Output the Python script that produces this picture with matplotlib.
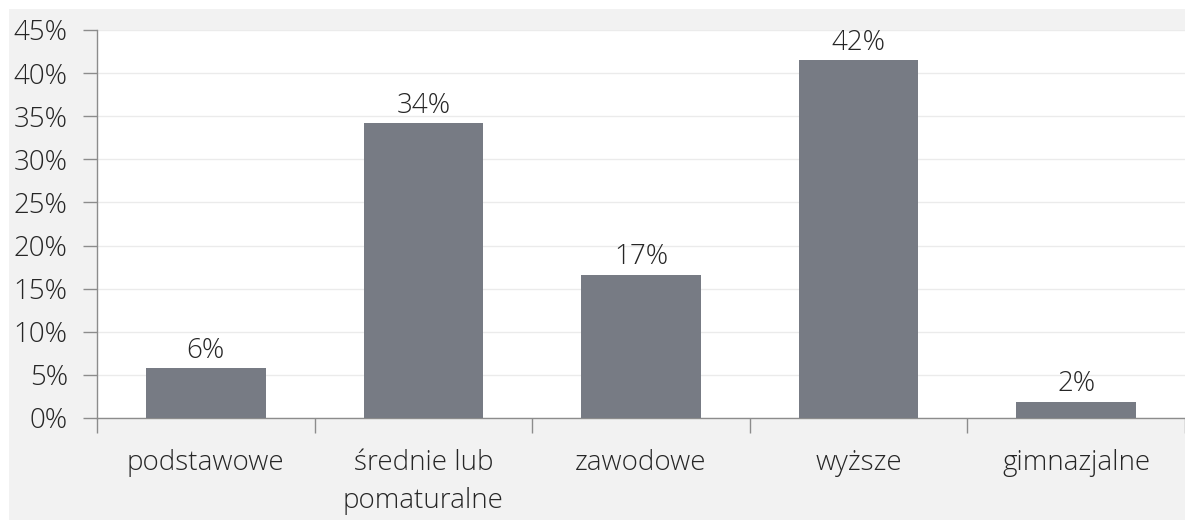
import matplotlib

matplotlib.use("Agg")

import matplotlib.pyplot as plt
from matplotlib.patches import Rectangle
from matplotlib.ticker import FixedLocator, FuncFormatter

# 数据：百分比
categories = ["podstawowe", "średnie lub\npomaturalne", "zawodowe", "wyższe", "gimnazjalne"]
values = [5.8, 34.2, 16.6, 41.5, 1.9]
value_labels = ["6%", "34%", "17%", "42%", "2%"]
y_ticks = [0, 5, 10, 15, 20, 25, 30, 35, 40, 45]

BAR_COLOR = "#777b84"
BG_COLOR = "#f2f2f2"
TEXT_COLOR = "#262626"
AXIS_COLOR = "#8c8c8c"
FONT_SIZE = 20

plt.rcParams["font.family"] = ["Open Sans", "DejaVu Sans"]
plt.rcParams["font.weight"] = "light"

W, H = 1185, 520
fig = plt.figure(figsize=(W / 100, H / 100), dpi=100)
fig.patch.set_facecolor("white")
bg = Rectangle((9 / W, 0), 1 - 9 / W, 1 - 9 / H, transform=fig.transFigure,
               facecolor=BG_COLOR, edgecolor="none", zorder=-10)
fig.add_artist(bg)

ax = fig.add_axes([97 / W, (H - 418) / H, (W - 97) / W, 388 / H])
ax.set_zorder(1)
ax.set_facecolor("white")

x = list(range(len(categories)))
ax.bar(x, values, width=0.55, color=BAR_COLOR, zorder=3)
for xi, v, lab in zip(x, values, value_labels):
    ax.text(xi, v + 0.4, lab, ha="center", va="bottom", fontsize=FONT_SIZE,
            color=TEXT_COLOR, fontweight="light")

ax.set_xlim(-0.5, len(categories) - 0.5)
ax.set_ylim(0, 45)
ax.set_yticks(y_ticks)
ax.yaxis.set_major_formatter(FuncFormatter(lambda v, p: f"{v:.0f}%"))
ax.tick_params(axis="y", length=10, width=1, color=AXIS_COLOR, labelsize=FONT_SIZE,
               labelcolor=TEXT_COLOR, pad=11)
ax.grid(axis="y", color="#ebebeb", linewidth=1, zorder=0)

ax.set_xticks(x)
ax.set_xticklabels(categories, fontsize=FONT_SIZE, color=TEXT_COLOR, linespacing=1.5)
ax.tick_params(axis="x", which="major", length=0, pad=22)
ax.xaxis.set_minor_locator(FixedLocator([i - 0.5 for i in range(len(categories) + 1)]))
ax.tick_params(axis="x", which="minor", length=11, width=1, color=AXIS_COLOR)

for side in ["top", "right"]:
    ax.spines[side].set_visible(False)
for side in ["left", "bottom"]:
    ax.spines[side].set_color(AXIS_COLOR)
    ax.spines[side].set_linewidth(1)

fig.savefig("out.png", dpi=100, facecolor=fig.get_facecolor())
